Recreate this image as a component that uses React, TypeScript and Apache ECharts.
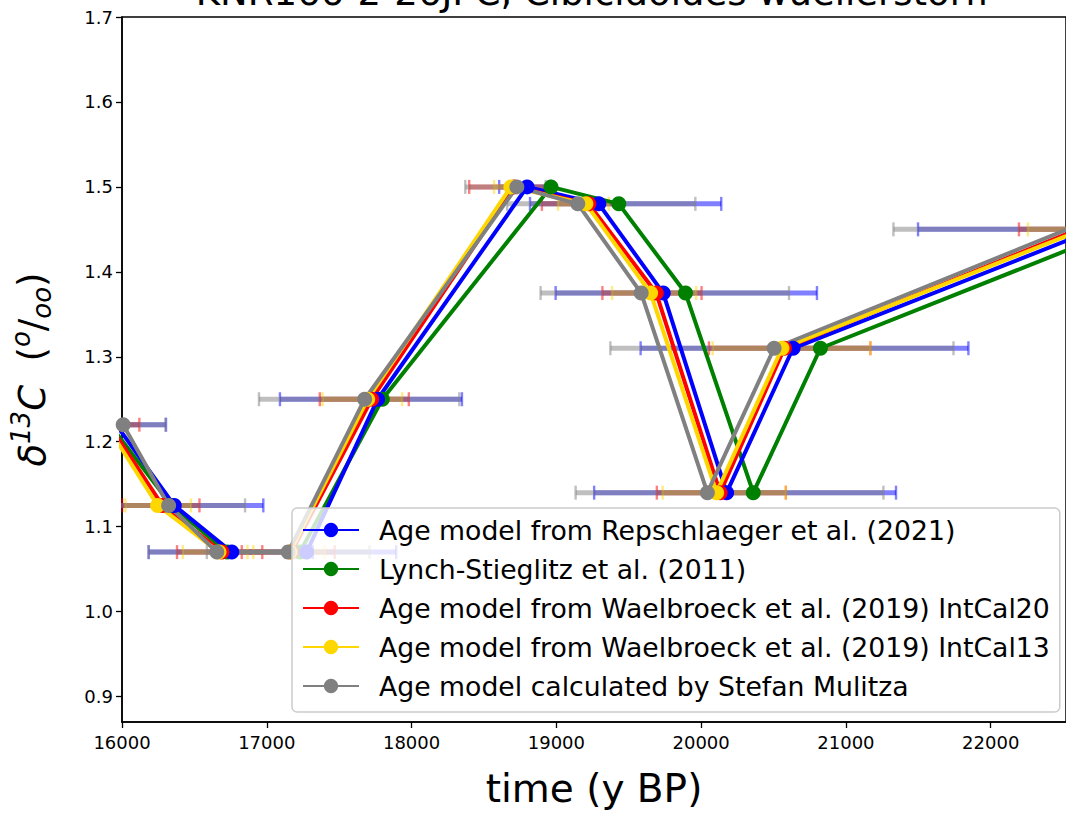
import React, { useEffect, useRef } from "react";
import * as echarts from "echarts";

const FONT = "DejaVu Sans";

const titleText = "KNR166-2-26JPC, Cibicidoides wuellerstorfi";
const xTicks = [16000, 17000, 18000, 19000, 20000, 21000, 22000];
const yTicks = [0.9, 1.0, 1.1, 1.2, 1.3, 1.4, 1.5, 1.6, 1.7];

// d13C values (one per sample depth)
const d13C = [1.22, 1.125, 1.07, 1.07, 1.25, 1.5, 1.48, 1.375, 1.14, 1.31, 1.45];

// ages (y BP) for each age model
const ageRepschlaeger = [15960, 16361, 16758, 17275, 17765, 18798, 19293, 19738, 20176, 20635, 22724];
const ageLynch = [15917, 16341, 16726, 17229, 17798, 18963, 19431, 19892, 20360, 20824, 22891];
const ageWaelbroeck20 = [15911, 16279, 16690, 17170, 17724, 18708, 19224, 19690, 20131, 20575, 22601];
const ageWaelbroeck13 = [15892, 16246, 16670, 17160, 17697, 18686, 19204, 19651, 20107, 20558, 22638];
const ageMulitza = [16008, 16322, 16655, 17148, 17676, 18727, 19148, 19586, 20043, 20504, 22530];

// age uncertainty ranges [low, high]
const errRepschlaeger = [
  [15660, 16304], [15746, 16976], [16184, 17318], [16656, 17894], [17091, 18348], [18605, 18960],
  [18818, 20139], [18995, 20800], [19261, 21346], [19582, 21846], [21498, 23900],
];
const errWaelbroeck20 = [
  [15700, 16120], [16001, 16535], [16380, 16969], [16827, 17469], [17366, 17981], [18398, 18960],
  [18900, 19444], [19318, 20003], [19694, 20585], [20054, 21169], [22195, 23000],
];
const errWaelbroeck13 = [
  [15700, 16024], [16024, 16476], [16420, 16867], [16907, 17400], [17385, 17935], [18570, 18790],
  [19011, 19362], [19385, 19966], [19734, 20585], [20080, 21169], [22257, 23000],
];
const errMulitza = [
  [15700, 16300], [15794, 16850], [16184, 17126], [16586, 17710], [16946, 18330], [18371, 18926],
  [18660, 19960], [18891, 20607], [19133, 21259], [19373, 21743], [21328, 23700],
];

const names = [
  "Age model from Repschlaeger et al. (2021)",
  "Lynch-Stieglitz et al. (2011)",
  "Age model from Waelbroeck et al. (2019) IntCal20",
  "Age model from Waelbroeck et al. (2019) IntCal13",
  "Age model calculated by Stefan Mulitza",
];
const colors = ["#0000ff", "#008000", "#ff0000", "#ffd700", "#808080"];
const errColors = ["rgba(0,0,255,0.5)", "rgba(255,0,0,0.5)", "rgba(255,215,0,0.5)", "rgba(128,128,128,0.5)"];

export default function App() {
  const ref = useRef<HTMLDivElement>(null);
  useEffect(() => {
    document.body.style.margin = "0";
    const chart = echarts.init(ref.current!, null, { renderer: "svg" });

    const ages = [ageRepschlaeger, ageLynch, ageWaelbroeck20, ageWaelbroeck13, ageMulitza];
    const lineSeries = names.map((n, i) => ({
      type: "line",
      name: n,
      data: ages[i].map((t, k) => [t, d13C[k]]),
      symbol: "circle",
      symbolSize: 15,
      showSymbol: true,
      clip: true,
      z: 3,
      lineStyle: { color: colors[i], width: 4 },
      itemStyle: { color: colors[i] },
      emphasis: { disabled: true },
    }));

    const errs = [errRepschlaeger, errWaelbroeck20, errWaelbroeck13, errMulitza];
    const errSeries = errs.map((e, i) => ({
      type: "custom",
      name: "err" + i,
      z: 1,
      clip: true,
      data: e.map((r, k) => [r[0], r[1], d13C[k]]),
      encode: { x: [0, 1], y: 2 },
      renderItem: (params: any, api: any) => {
        const a = api.coord([api.value(0), api.value(2)]);
        const b = api.coord([api.value(1), api.value(2)]);
        const c = 7;
        const st = { stroke: errColors[i], lineWidth: 5 };
        const cs = { stroke: errColors[i], lineWidth: 2.4 };
        return {
          type: "group",
          children: [
            { type: "line", shape: { x1: a[0], y1: a[1], x2: b[0], y2: b[1] }, style: st },
            { type: "line", shape: { x1: a[0], y1: a[1] - c, x2: a[0], y2: a[1] + c }, style: cs },
            { type: "line", shape: { x1: b[0], y1: b[1] - c, x2: b[0], y2: b[1] + c }, style: cs },
          ],
        };
      },
    }));

    const orderedLines = [lineSeries[1], lineSeries[0], lineSeries[2], lineSeries[3], lineSeries[4]];

    chart.setOption({
      animation: false,
      grid: { left: 121, top: 17, right: -3, bottom: 81, show: true, borderColor: "#000", borderWidth: 1.5, backgroundColor: "transparent" },
      xAxis: {
        type: "value",
        min: 16000,
        max: 22520,
        name: "time (y BP)",
        nameLocation: "middle",
        nameGap: 47,
        nameTextStyle: { fontSize: 39, fontFamily: FONT, color: "#000" },
        axisLine: { show: true, lineStyle: { color: "#000", width: 1.5 } },
        axisTick: { show: true, customValues: xTicks, length: 6, lineStyle: { color: "#000", width: 1.3 } },
        axisLabel: {
          customValues: xTicks,
          fontSize: 18,
          fontFamily: FONT,
          color: "#000",
          margin: 11,
          showMaxLabel: true,
          formatter: (v: number) => String(v),
        },
        splitLine: { show: false },
      },
      yAxis: {
        type: "value",
        min: 0.87,
        max: 1.7,
        name: "{i|δ}{sup|13}{i|C}  {n|(}{sup|o}{n|/}{sub|oo}{n|)}",
        nameLocation: "middle",
        nameGap: 66,
        nameTextStyle: {
          fontSize: 37,
          fontFamily: FONT,
          color: "#000",
          rich: {
            i: { fontSize: 37, fontFamily: FONT, fontStyle: "italic", color: "#000" },
            n: { fontSize: 37, fontFamily: FONT, color: "#000" },
            sup: { fontSize: 26, fontFamily: FONT, fontStyle: "italic", color: "#000", padding: [0, 0, 22, 0] },
            sub: { fontSize: 26, fontFamily: FONT, fontStyle: "italic", color: "#000", padding: [20, 0, 0, 0] },
          },
        },
        axisLine: { show: true, lineStyle: { color: "#000", width: 1.5 } },
        axisTick: { show: true, customValues: yTicks, length: 6, lineStyle: { color: "#000", width: 1.3 } },
        axisLabel: {
          customValues: yTicks,
          fontSize: 18,
          fontFamily: FONT,
          color: "#000",
          margin: 9,
          formatter: (v: number) => v.toFixed(1),
        },
        splitLine: { show: false },
      },
      legend: {
        orient: "vertical",
        left: 292,
        top: 508,
        itemWidth: 56,
        itemHeight: 18,
        itemGap: 11,
        padding: [8, 10, 12, 10],
        backgroundColor: "rgba(255,255,255,0.8)",
        borderColor: "#cccccc",
        borderWidth: 1.5,
        borderRadius: 5,
        data: names,
        textStyle: { fontSize: 26.7, fontFamily: FONT, color: "#000", lineHeight: 28, padding: [0, 0, 0, 15] },
        selectedMode: false,
        z: 10,
      },
      graphic: [
        {
          type: "text",
          x: 592,
          y: -8,
          style: { text: titleText, fontSize: 37, fontFamily: FONT, fill: "#000", align: "center", verticalAlign: "middle" },
        },
      ],
      series: [...errSeries, ...orderedLines],
    });
    return () => chart.dispose();
  }, []);
  return <div ref={ref} style={{ width: 1066, height: 813 }} />;
}
